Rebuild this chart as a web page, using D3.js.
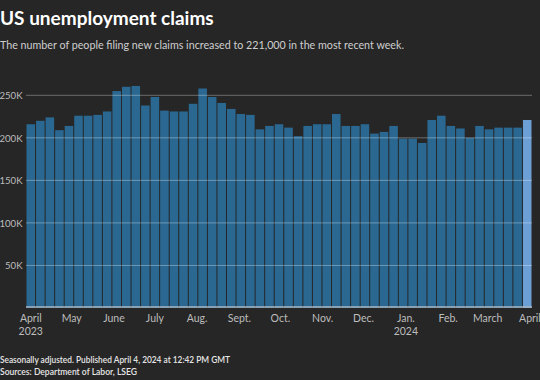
<!DOCTYPE html>
<html lang="en">
<head>
    <meta charset="UTF-8">
    <title>US unemployment claims</title>
    <style>
        body { margin: 0; background: #262626; }
        text { font-family: "Lato", "Open Sans", sans-serif; }
    </style>
    <script src="https://d3js.org/d3.v7.min.js"></script>
</head>
<body>
    <svg width="540" height="380"></svg>
    <script>
        // week ending dates start on Saturday April 1, 2023
        const firstWeek = new Date(2023, 3, 1);

        // initial claims, thousands, seasonally adjusted
        const claims = [
            216, 220, 224, 209, 214, 226, 226, 227, 231, 255,
            260, 261, 238, 248, 232, 231, 231, 240, 258, 248,
            241, 234, 228, 227, 210, 214, 216, 212, 202, 214,
            216, 216, 228, 214, 214, 216, 205, 207, 214, 199,
            199, 194, 221, 226, 214, 211, 200, 214, 210, 212,
            212, 212, 221
        ];

        const yTicks = [50, 100, 150, 200, 250];
        const yTickLabels = ["50K", "100K", "150K", "200K", "250K"];

        const monthLabels = [
            ["April", "2023"], ["May"], ["June"], ["July"], ["Aug."], ["Sept."],
            ["Oct."], ["Nov."], ["Dec."], ["Jan.", "2024"], ["Feb."], ["March"], ["April"]
        ];

        const data = claims.map((v, i) => ({
            date: d3.timeDay.offset(firstWeek, i * 7),
            value: v
        }));

        const svg = d3.select("svg");
        const left = 26, right = 532;

        const halfWeek = 3.5 * 24 * 3600 * 1000;
        const x = d3.scaleTime()
            .domain([+data[0].date - halfWeek, +data[data.length - 1].date + halfWeek])
            .range([left, right]);

        const y = d3.scaleLinear()
            .domain([0, 250])
            .range([308, 95.3]);

        const pitch = (right - left) / data.length;
        const barW = pitch - 1;

        svg.append("text")
            .attr("x", 0).attr("y", 25)
            .attr("fill", "#fff")
            .attr("font-size", 19)
            .attr("font-weight", "bold")
            .text("US unemployment claims");

        svg.append("text")
            .attr("x", 0).attr("y", 49)
            .attr("fill", "#cfcfcf")
            .attr("font-size", 11.5)
            .attr("textLength", 404)
            .attr("lengthAdjust", "spacingAndGlyphs")
            .text("The number of people filing new claims increased to 221,000 in the most recent week.");

        svg.append("g")
            .selectAll("rect")
            .data(data)
            .enter().append("rect")
            .attr("x", d => x(d.date) - barW / 2)
            .attr("width", barW)
            .attr("y", d => y(d.value))
            .attr("height", d => y(0) - y(d.value))
            .attr("fill", (d, i) => i === data.length - 1 ? "#6b9fd6" : "#2a6892");

        svg.append("g")
            .selectAll("line")
            .data(yTicks)
            .enter().append("line")
            .attr("x1", left).attr("x2", right)
            .attr("y1", d => y(d)).attr("y2", d => y(d))
            .attr("stroke", "#fff")
            .attr("stroke-opacity", 0.32)
            .attr("stroke-width", 1);

        svg.append("g")
            .selectAll("text")
            .data(yTicks)
            .enter().append("text")
            .attr("x", 22.5)
            .attr("y", d => y(d) + 4)
            .attr("text-anchor", "end")
            .attr("fill", "#bdbdbd")
            .attr("font-size", 9.6)
            .text((d, i) => yTickLabels[i]);

        svg.append("line")
            .attr("x1", left).attr("x2", right)
            .attr("y1", y(0) - 1).attr("y2", y(0) - 1)
            .attr("stroke", "#a9b4bf")
            .attr("stroke-width", 1.5);

        const months = d3.timeMonth.range(new Date(2023, 3, 1), new Date(2024, 3, 2));

        const mLab = svg.append("g")
            .selectAll("text")
            .data(months)
            .enter().append("text")
            .attr("x", d => x(d))
            .attr("y", 322)
            .attr("text-anchor", "middle")
            .attr("fill", "#bdbdbd")
            .attr("font-size", 10.5);

        mLab.selectAll("tspan")
            .data((d, i) => monthLabels[i])
            .enter().append("tspan")
            .attr("x", function () { return d3.select(this.parentNode).attr("x"); })
            .attr("dy", (d, i) => i === 0 ? 0 : 12.5)
            .text(d => d);

        svg.append("text")
            .attr("x", 0).attr("y", 362.5)
            .attr("fill", "#e6e6e6")
            .attr("font-size", 9.5)
            .attr("font-weight", 600)
            .attr("textLength", 230)
            .attr("lengthAdjust", "spacingAndGlyphs")
            .text("Seasonally adjusted. Published April 4, 2024 at 12:42 PM GMT");

        svg.append("text")
            .attr("x", 0).attr("y", 374.5)
            .attr("fill", "#e6e6e6")
            .attr("font-size", 9.5)
            .attr("font-weight", 600)
            .attr("textLength", 137)
            .attr("lengthAdjust", "spacingAndGlyphs")
            .text("Sources: Department of Labor, LSEG");
    </script>
</body>
</html>
